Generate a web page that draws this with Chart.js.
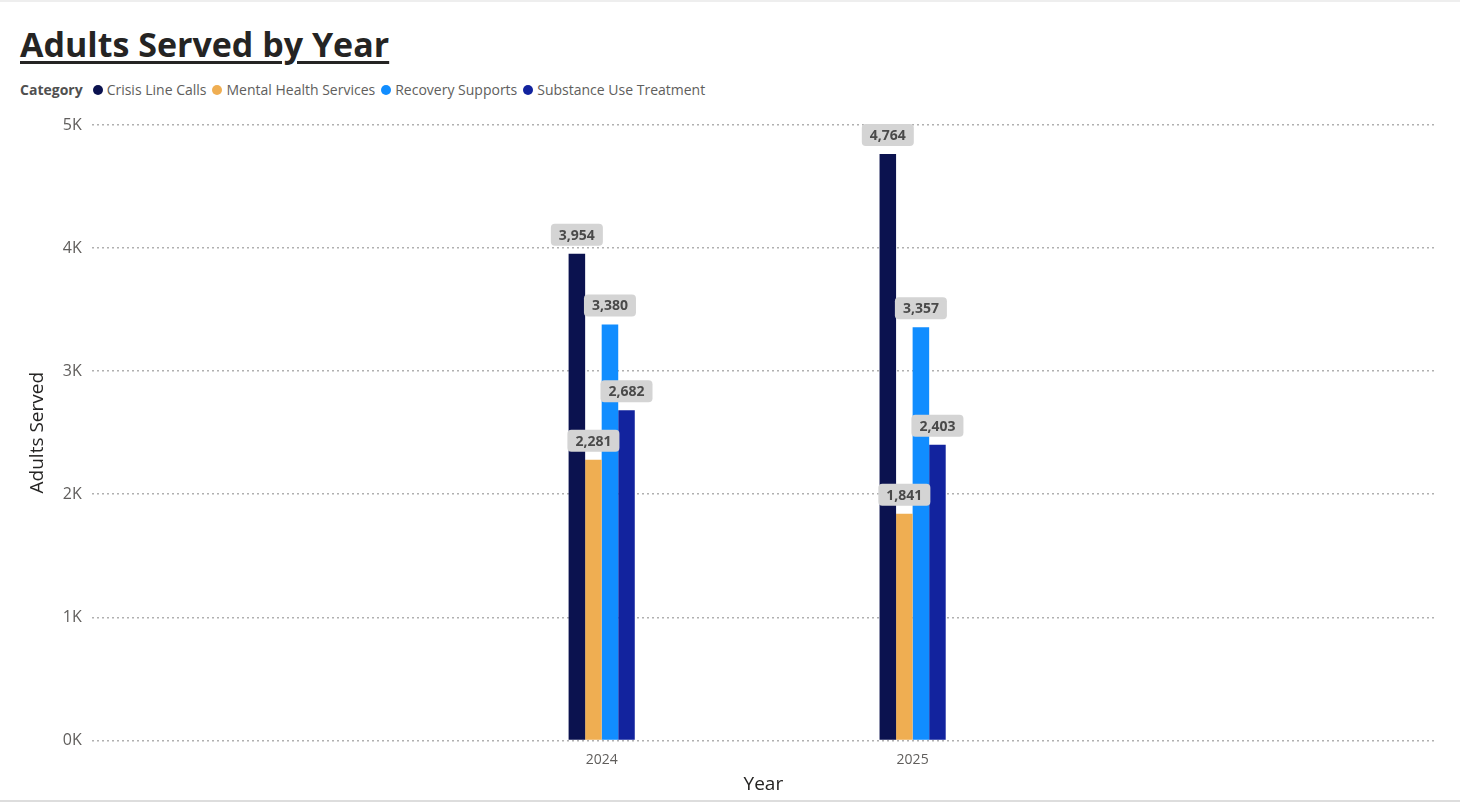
<!DOCTYPE html>
<html>
<head>
<meta charset="utf-8">
<script src="https://cdn.jsdelivr.net/npm/chart.js@4.4.1/dist/chart.umd.min.js"></script>
<style>
  body { margin: 0; background: #fff; font-family: "Open Sans", "DejaVu Sans", sans-serif; }
  #title { position: absolute; left: 20px; top: 21px; font-size: 34px; font-weight: bold; color: #252423; text-decoration: underline; text-decoration-thickness: 3px; text-underline-offset: 4px; }
  #legend { position: absolute; left: 20px; top: 80px; font-size: 14px; color: #605e5c; display: flex; align-items: center; }
  #legend b { color: #505050; margin-right: 10px; }
  .it { display: flex; align-items: center; margin-right: 6px; }
  .dot { width: 10px; height: 10px; border-radius: 50%; margin-right: 4px; }
  #wrap { position: absolute; left: 0; top: 105px; width: 1435px; height: 695px; }
  #topline { position: absolute; left: 0; top: 0; width: 1460px; border-top: 2px solid #eee; }
  #botline { position: absolute; left: 0; top: 800px; width: 1460px; border-top: 2px solid #ddd; }
</style>
</head>
<body>
<div id="topline"></div>
<div id="title">Adults Served by Year</div>
<div id="legend"><b>Category</b></div>
<div id="wrap"><canvas id="c"></canvas></div>
<div id="botline"></div>
<script>
const years = ["2024", "2025"];
const categories = ["Crisis Line Calls", "Mental Health Services", "Recovery Supports", "Substance Use Treatment"];
const crisisLine = [3954, 4764];
const mentalHealth = [2281, 1841];
const recovery = [3380, 3357];
const substanceUse = [2682, 2403];
const yTicks = [0, 1000, 2000, 3000, 4000, 5000];
const colors = ["#0B124F", "#EFAE52", "#118DFF", "#12239E"];
const series = [crisisLine, mentalHealth, recovery, substanceUse];

const leg = document.getElementById("legend");
categories.forEach((c, i) => {
  const d = document.createElement("span");
  d.className = "it";
  d.innerHTML = `<span class="dot" style="background:${colors[i]}"></span>${c}`;
  leg.appendChild(d);
});

const labelPlugin = {
  id: "valueLabels",
  afterDatasetsDraw(chart) {
    const ctx = chart.ctx;
    ctx.save();
    ctx.font = "bold 14px 'Open Sans', 'DejaVu Sans', sans-serif";
    ctx.textAlign = "center";
    ctx.textBaseline = "middle";
    chart.data.datasets.forEach((ds, i) => {
      chart.getDatasetMeta(i).data.forEach((bar, j) => {
        const txt = ds.data[j].y.toLocaleString("en-US");
        const w = ctx.measureText(txt).width + 16;
        const h = 22;
        const cx = bar.x, cy = bar.y - 19;
        ctx.fillStyle = "#d4d4d4";
        ctx.beginPath();
        ctx.roundRect(cx - w / 2, cy - h / 2, w, h, 4);
        ctx.fill();
        ctx.fillStyle = "#4a4a4a";
        ctx.fillText(txt, cx, cy + 1);
      });
    });
    ctx.restore();
  }
};

new Chart(document.getElementById("c"), {
  type: "bar",
  data: {
    datasets: series.map((s, i) => ({
      label: categories[i],
      data: s.map((v, j) => ({ x: j, y: v })),
      backgroundColor: colors[i],
      barPercentage: 1,
      categoryPercentage: 0.76
    }))
  },
  options: {
    responsive: true,
    maintainAspectRatio: false,
    animation: false,
    layout: { padding: { top: 20, left: 22 } },
    plugins: { legend: { display: false }, tooltip: { enabled: false } },
    scales: {
      x: {
        type: "linear",
        min: -1.28,
        max: 2.32,
        grid: { display: false },
        border: { display: false },
        ticks: {
          stepSize: 1,
          autoSkip: false,
          maxRotation: 0,
          callback: (v) => (Number.isInteger(v) && years[v]) ? years[v] : "",
          color: "#605e5c",
          font: { size: 14, family: "'Open Sans', 'DejaVu Sans', sans-serif" }
        },
        title: { display: true, text: "Year", color: "#252423", font: { size: 19, family: "'Open Sans', 'DejaVu Sans', sans-serif" }, padding: { top: 2 } }
      },
      y: {
        min: 0,
        max: 5000,
        afterBuildTicks(axis) { axis.ticks = yTicks.map(v => ({ value: v })); },
        grid: { color: "#b0b0b0", lineWidth: 1.5, borderDash: [2, 3], drawTicks: false },
        border: { display: false, dash: [2, 3] },
        ticks: {
          callback: (v) => (v / 1000) + "K",
          color: "#605e5c",
          padding: 10,
          font: { size: 16, family: "'Open Sans', 'DejaVu Sans', sans-serif" }
        },
        title: { display: true, text: "Adults Served", color: "#252423", font: { size: 19, family: "'Open Sans', 'DejaVu Sans', sans-serif" } }
      }
    }
  },
  plugins: [labelPlugin]
});
</script>
</body>
</html>
